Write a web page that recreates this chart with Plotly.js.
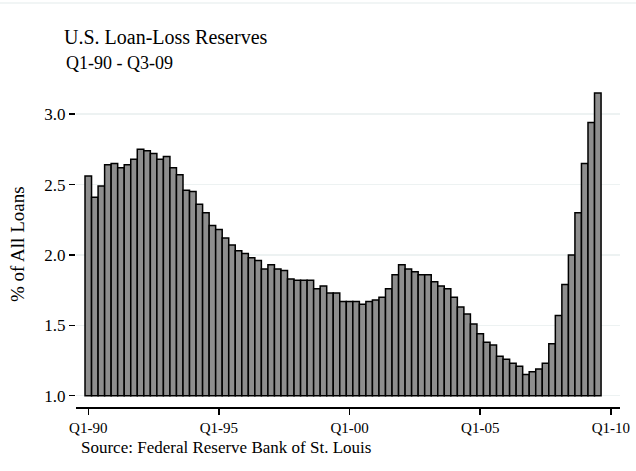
<!DOCTYPE html>
<html>
<head>
<meta charset="utf-8">
<script src="https://cdn.plot.ly/plotly-3.0.1.min.js"></script>
<style>html,body{margin:0;padding:0;background:#fff;}#chart{width:636px;height:471px;}</style>
</head>
<body>
<div id="chart"></div>
<script>
// Quarterly loan-loss reserves, % of all loans, Q1-90 .. Q3-09
const quarters = [];
for (let y = 1990; y <= 2009; y++) {
  for (let q = 1; q <= 4; q++) {
    if (y === 2009 && q > 3) break;
    quarters.push('Q' + q + '-' + String(y % 100).padStart(2, '0'));
  }
}
const reserves = [
  2.56, 2.41, 2.49, 2.64, 2.65, 2.62, 2.64, 2.68, 2.75, 2.74,
  2.72, 2.68, 2.70, 2.62, 2.57, 2.46, 2.45, 2.36, 2.30, 2.21,
  2.18, 2.12, 2.07, 2.03, 2.01, 1.98, 1.96, 1.90, 1.93, 1.90,
  1.89, 1.83, 1.82, 1.82, 1.82, 1.76, 1.78, 1.73, 1.73, 1.67,
  1.67, 1.67, 1.65, 1.67, 1.68, 1.70, 1.76, 1.86, 1.93, 1.90,
  1.88, 1.86, 1.86, 1.81, 1.78, 1.76, 1.70, 1.63, 1.58, 1.51,
  1.44, 1.38, 1.36, 1.28, 1.26, 1.23, 1.21, 1.15, 1.17, 1.19,
  1.23, 1.37, 1.57, 1.79, 2.00, 2.30, 2.65, 2.94, 3.15
];
const tickPositions = [0, 20, 40, 60, 80];
const tickLabels = ['Q1-90', 'Q1-95', 'Q1-00', 'Q1-05', 'Q1-10'];
const yTicks = [1.0, 1.5, 2.0, 2.5, 3.0];
const yTickLabels = ['1.0', '1.5', '2.0', '2.5', '3.0'];
const baseline = 1.0;

const xIdx = reserves.map((_, i) => i);
const FONT = 'Liberation Serif, serif';

const trace = {
  type: 'bar',
  x: xIdx,
  y: reserves.map(v => v - baseline),
  base: baseline,
  customdata: quarters.map((q, i) => [q, reserves[i]]),
  hovertemplate: '%{customdata[0]}: %{customdata[1]}<extra></extra>',
  textposition: 'none',
  marker: { color: '#8e8e8e', line: { color: '#000', width: 1.5 } },
  width: 1
};

const PW = 544, PH = 321; // plot area size in px
const layout = {
  width: 636, height: 471,
  paper_bgcolor: '#fff', plot_bgcolor: '#fff',
  margin: { l: 76, r: 16, t: 86, b: 64 },
  bargap: 0,
  showlegend: false,
  font: { family: FONT, color: '#000' },
  title: {
    text: 'U.S. Loan-Loss Reserves',
    font: { family: FONT, size: 20, color: '#000' },
    x: 64 / 636, xanchor: 'left', xref: 'container',
    y: 1 - 37 / 471, yanchor: 'middle', yref: 'container'
  },
  xaxis: {
    range: [-1.88, 81.4],
    tickmode: 'array', tickvals: tickPositions, ticktext: tickLabels,
    ticks: 'outside', ticklen: 6, tickwidth: 1.5, tickcolor: '#000',
    showline: true, linecolor: '#000', linewidth: 1.5,
    showgrid: false, zeroline: false,
    tickfont: { family: FONT, size: 15, color: '#000' },
    fixedrange: true
  },
  yaxis: {
    range: [0.92, 3.2],
    tickmode: 'array', tickvals: yTicks, ticktext: yTickLabels,
    ticks: 'outside', ticklen: 6, tickwidth: 1.5, tickcolor: '#000',
    showline: false, zeroline: false,
    showgrid: true, gridcolor: '#edf2f2', gridwidth: 1.5,
    tickfont: { family: FONT, size: 17, color: '#000' },
    fixedrange: true
  },
  annotations: [
    { text: 'Q1-90 - Q3-09', xref: 'paper', yref: 'paper', x: (64 - 76) / PW, xanchor: 'left',
      y: 1 + (86 - 63) / PH, yanchor: 'middle', showarrow: false,
      font: { family: FONT, size: 18, color: '#000' } },
    { text: '% of All Loans', xref: 'paper', yref: 'paper', x: (17 - 76) / PW, xanchor: 'center',
      y: 1 - (244 - 86) / PH, yanchor: 'middle', showarrow: false, textangle: -90,
      font: { family: FONT, size: 19, color: '#000' } },
    { text: 'Source: Federal Reserve Bank of St. Louis', xref: 'paper', yref: 'paper', x: (79 - 76) / PW, xanchor: 'left',
      y: -(448 - 407) / PH, yanchor: 'middle', showarrow: false,
      font: { family: FONT, size: 17, color: '#000' } }
  ],
  shapes: [
    { type: 'line', xref: 'paper', yref: 'paper', x0: -76 / PW, x1: 1 + 16 / PW,
      y0: 1 + (86 - 3) / PH, y1: 1 + (86 - 3) / PH, line: { color: '#edf2f2', width: 1.5 } }
  ]
};

Plotly.newPlot('chart', [trace], layout, { displayModeBar: false, staticPlot: true });
</script>
</body>
</html>
